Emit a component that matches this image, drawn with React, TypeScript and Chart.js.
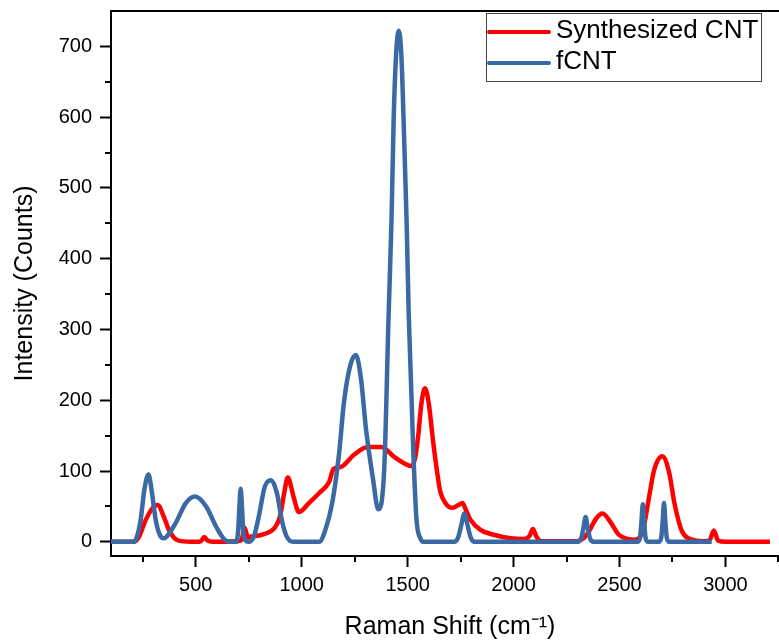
import React, { useEffect, useRef } from "react";
import { Chart, registerables } from "chart.js";

Chart.register(...registerables);

const FONT = "'Liberation Sans', Arial, Helvetica, sans-serif";

const seriesLabels = ["Synthesized CNT", "fCNT"];
const seriesColors = ["#FF0000", "#3A69A3"];

const xTitle = "Raman Shift (cm\u207B\u00B9)";
const yTitle = "Intensity (Counts)";

const xMajorTicks = [500, 1000, 1500, 2000, 2500, 3000];
const xMinorTicks = [250, 750, 1250, 1750, 2250, 2750, 3250];
const yMajorTicks = [0, 100, 200, 300, 400, 500, 600, 700];
const yMinorTicks = [50, 150, 250, 350, 450, 550, 650];

const cntShift = [100, 207, 230, 264, 297, 320, 350, 373, 400, 430, 500, 525, 540, 555, 580, 700, 716, 731, 746, 754, 811, 873, 898, 915, 935, 950, 963, 987, 1035, 1083, 1130, 1150, 1185, 1247, 1313, 1375, 1437, 1490, 1518, 1535, 1550, 1565, 1582, 1600, 1621, 1640, 1654, 1678, 1711, 1740, 1759, 1775, 1797, 1844, 1906, 1987, 2049, 2075, 2091, 2107, 2130, 2300, 2330, 2350, 2390, 2420, 2459, 2497, 2540, 2568, 2611, 2640, 2664, 2702, 2735, 2759, 2792, 2825, 2900, 2925, 2945, 2965, 3000, 3210];
const cntIntensity = [0, 0, 6, 31, 48, 52, 35, 17, 5, 1, 0, 1, 7, 2, 0, 1, 3, 20, 6, 7, 10, 20, 36, 65, 91, 78, 62, 42, 55, 69, 85, 103, 106, 123, 134, 134, 120, 110, 107, 118, 150, 195, 217, 195, 140, 97, 71, 55, 48, 52, 55, 45, 31, 17, 10, 5, 4, 8, 18, 8, 1, 1, 5, 12, 33, 40, 27, 10, 4, 3, 17, 64, 102, 121, 97, 55, 17, 5, 1, 2, 16, 2, 0, 0];

const fcntShift = [100, 207, 220, 240, 258, 277, 293, 311, 330, 350, 375, 406, 454, 497, 549, 597, 636, 665, 690, 700, 706, 712, 718, 724, 735, 749, 775, 797, 826, 855, 883, 906, 930, 960, 1083, 1112, 1144, 1177, 1199, 1230, 1256, 1280, 1304, 1337, 1361, 1390, 1410, 1424, 1434, 1446, 1458, 1470, 1481, 1495, 1505, 1527, 1542, 1560, 1573, 1720, 1738, 1752, 1768, 1784, 1798, 1816, 2300, 2318, 2330, 2340, 2350, 2362, 2380, 2585, 2597, 2604, 2610, 2616, 2623, 2635, 2685, 2697, 2704, 2710, 2716, 2723, 2735, 2935];
const fcntIntensity = [0, 0, 5, 31, 75, 95, 70, 31, 10, 5, 12, 27, 55, 64, 50, 21, 3, 0, 0, 15, 50, 75, 50, 15, 2, 0, 8, 35, 78, 87, 69, 31, 7, 0, 0, 17, 55, 126, 196, 250, 264, 230, 158, 88, 46, 106, 318, 455, 596, 690, 722, 690, 596, 455, 323, 126, 31, 5, 0, 0, 6, 22, 40, 22, 6, 0, 0, 4, 20, 35, 20, 4, 0, 0, 6, 30, 53, 30, 6, 0, 0, 6, 30, 55, 30, 6, 0, 0];

const toPoints = (xs: number[], ys: number[]) => xs.map((x, i) => ({ x, y: ys[i] }));

const framePlugin = {
  id: "frameAndLegend",
  afterDraw(chart: any) {
    const { ctx, chartArea: a, scales } = chart;
    const xs = scales.x;
    const ys = scales.y;
    ctx.save();
    ctx.strokeStyle = "#000";
    ctx.lineWidth = 2;
    ctx.beginPath();
    ctx.moveTo(a.left - 1, a.top);
    ctx.lineTo(a.right, a.top);
    ctx.lineTo(a.right, a.bottom);
    ctx.stroke();
    ctx.beginPath();
    xMinorTicks.forEach((v) => {
      const px = Math.round(xs.getPixelForValue(v));
      ctx.moveTo(px, a.bottom);
      ctx.lineTo(px, a.bottom + 6);
    });
    yMinorTicks.forEach((v) => {
      const py = Math.round(ys.getPixelForValue(v));
      ctx.moveTo(a.left, py);
      ctx.lineTo(a.left - 6, py);
    });
    ctx.stroke();

    // legend
    const bl = 486;
    const bt = 13;
    const bw = 275;
    const bh = 68;
    ctx.fillStyle = "#fff";
    ctx.fillRect(bl, bt, bw, bh);
    ctx.strokeStyle = "#444";
    ctx.lineWidth = 1;
    ctx.strokeRect(bl + 0.5, bt + 0.5, bw, bh);
    const ds = chart.data.datasets;
    const rows = [32, 63];
    ds.forEach((d: any, i: number) => {
      const y = rows[i];
      ctx.strokeStyle = d.borderColor;
      ctx.lineWidth = 4;
      ctx.lineCap = "round";
      ctx.beginPath();
      ctx.moveTo(bl + 3, y);
      ctx.lineTo(bl + 63, y);
      ctx.stroke();
      ctx.fillStyle = "#000";
      ctx.font = `26px ${FONT}`;
      ctx.textBaseline = "middle";
      ctx.textAlign = "left";
      ctx.fillText(d.label, bl + 70, y - 1);
    });
    ctx.restore();
  },
};

export default function App() {
  const ref = useRef<HTMLCanvasElement | null>(null);
  useEffect(() => {
    if (!ref.current) return;
    const chart = new Chart(ref.current, {
      type: "line",
      data: {
        datasets: [
          {
            label: seriesLabels[0],
            data: toPoints(cntShift, cntIntensity),
            borderColor: seriesColors[0],
            backgroundColor: seriesColors[0],
            borderWidth: 4.5,
            pointRadius: 0,
            cubicInterpolationMode: "monotone",
            order: 2,
          },
          {
            label: seriesLabels[1],
            data: toPoints(fcntShift, fcntIntensity),
            borderColor: seriesColors[1],
            backgroundColor: seriesColors[1],
            borderWidth: 4.5,
            pointRadius: 0,
            cubicInterpolationMode: "monotone",
            order: 1,
          },
        ],
      },
      options: {
        responsive: false,
        animation: false,
        devicePixelRatio: 1,
        layout: { padding: { top: 11, right: 11, left: 0, bottom: 0 } },
        plugins: { legend: { display: false }, tooltip: { enabled: false } },
        scales: {
          x: {
            type: "linear",
            min: 100,
            max: 3300,
            afterBuildTicks: (s: any) => {
              s.ticks = xMajorTicks.map((v) => ({ value: v }));
            },
            afterFit: (s: any) => {
              s.height = 88;
              s.paddingLeft = 0;
              s.paddingRight = 0;
            },
            grid: { drawOnChartArea: false, drawTicks: true, tickLength: 11, tickWidth: 2, tickColor: "#000" },
            border: { display: true, color: "#000", width: 2 },
            ticks: { color: "#000", font: { family: FONT, size: 20 }, padding: 6, maxRotation: 0, autoSkip: false, callback: (v: any) => String(v) },
            title: { display: true, text: xTitle, color: "#000", font: { family: FONT, size: 25 }, padding: { top: 0, bottom: 2 } },
          },
          y: {
            type: "linear",
            min: -20,
            max: 750,
            afterBuildTicks: (s: any) => {
              s.ticks = yMajorTicks.map((v) => ({ value: v }));
            },
            afterFit: (s: any) => {
              s.width = 111;
              s.paddingTop = 0;
              s.paddingBottom = 0;
            },
            grid: { drawOnChartArea: false, drawTicks: true, tickLength: 11, tickWidth: 2, tickColor: "#000" },
            border: { display: true, color: "#000", width: 2 },
            ticks: { color: "#000", font: { family: FONT, size: 20 }, padding: 8, autoSkip: false, callback: (v: any) => String(v) },
            title: { display: true, text: yTitle, color: "#000", font: { family: FONT, size: 25 }, padding: { top: 10, bottom: 0 } },
          },
        },
      },
      plugins: [framePlugin],
    });
    return () => chart.destroy();
  }, []);
  return (
    <div style={{ position: "fixed", left: 0, top: 0, width: 779, height: 644, overflow: "hidden", background: "#fff" }}>
      <canvas ref={ref} width={800} height={644} style={{ width: 800, height: 644, display: "block" }} />
    </div>
  );
}
